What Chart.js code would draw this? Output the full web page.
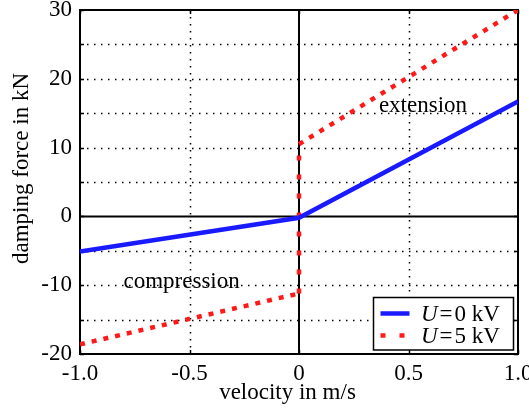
<!DOCTYPE html>
<html>
<head>
<meta charset="utf-8">
<script src="https://cdn.jsdelivr.net/npm/chart.js@4"></script>
<style>
  html, body { margin: 0; padding: 0; background: #fff; }
  #wrap { width: 529px; height: 416px; }
</style>
</head>
<body>
<div id="wrap"><canvas id="damperChart" width="529" height="416"></canvas></div>
<script>
// --- data ---
const blueVelocity = [-1.0, 0.0, 1.0];
const blueForce = [-5.1, -0.2, 16.7];
const redVelocity = [-1.0, 0.0, 0.0, 1.0];
const redForce = [-18.6, -11.2, 10.5, 30.0];

const xTicks = [-1.0, -0.5, 0, 0.5, 1.0];
const xTickLabels = ['-1.0', '-0.5', '0', '0.5', '1.0'];
const yTicks = [-20, -15, -10, -5, 0, 5, 10, 15, 20, 25, 30];
const yTickLabels = ['-20', '', '-10', '', '0', '', '10', '', '20', '', '30'];

const seriesNames = ['0 kV', '5 kV'];
const seriesColors = ['#1a1aff', '#ff1a1a'];
const annotations = [
    { text: 'extension', x: 0.566, y: 16.0 },
    { text: 'compression', x: -0.536, y: -9.5 }
];
const xTitle = 'velocity in m/s';
const yTitle = 'damping force in kN';

const FONT = '"Liberation Serif", "DejaVu Serif", serif';
const FS = 23;

function toPoints(xs, ys) {
    return xs.map((x, i) => ({ x: x, y: ys[i] }));
}

// grid, zero axes, frame, ticks, titles, labels and legend
const decorPlugin = {
    id: 'decor',
    beforeDatasetsDraw(chart) {
        const ctx = chart.ctx;
        const xs = chart.scales.x, ys = chart.scales.y;
        const a = chart.chartArea;
        ctx.save();
        ctx.strokeStyle = '#000';
        ctx.lineWidth = 1.5;
        ctx.setLineDash([1.5, 5.5]);
        xTicks.forEach(v => {
            if (v === 0 || v === -1 || v === 1) return;
            const px = Math.round(xs.getPixelForValue(v)) + 0.5;
            ctx.beginPath(); ctx.moveTo(px, a.top); ctx.lineTo(px, a.bottom); ctx.stroke();
        });
        yTicks.forEach(v => {
            if (v === 0 || v === -20 || v === 30) return;
            const py = Math.round(ys.getPixelForValue(v)) + 0.5;
            ctx.beginPath(); ctx.moveTo(a.left, py); ctx.lineTo(a.right, py); ctx.stroke();
        });
        ctx.setLineDash([]);

        // inward tick marks
        ctx.lineWidth = 1.5;
        xTicks.forEach(v => {
            const px = Math.round(xs.getPixelForValue(v)) + 0.5;
            ctx.beginPath();
            ctx.moveTo(px, a.top); ctx.lineTo(px, a.top + 4);
            ctx.moveTo(px, a.bottom); ctx.lineTo(px, a.bottom - 4);
            ctx.stroke();
        });
        yTicks.forEach(v => {
            const py = Math.round(ys.getPixelForValue(v)) + 0.5;
            ctx.beginPath();
            ctx.moveTo(a.left, py); ctx.lineTo(a.left + 4, py);
            ctx.moveTo(a.right, py); ctx.lineTo(a.right - 4, py);
            ctx.stroke();
        });

        ctx.lineWidth = 2;
        const x0 = xs.getPixelForValue(0), y0 = ys.getPixelForValue(0);
        ctx.beginPath(); ctx.moveTo(x0, a.top); ctx.lineTo(x0, a.bottom); ctx.stroke();
        ctx.beginPath(); ctx.moveTo(a.left, y0); ctx.lineTo(a.right, y0); ctx.stroke();
        ctx.strokeRect(a.left, a.top, a.right - a.left, a.bottom - a.top);

        ctx.fillStyle = '#000';
        ctx.font = FS + 'px ' + FONT;
        ctx.textAlign = 'center';
        ctx.textBaseline = 'middle';
        annotations.forEach(t => {
            ctx.fillText(t.text, xs.getPixelForValue(t.x), ys.getPixelForValue(t.y));
        });

        // axis titles
        ctx.textBaseline = 'alphabetic';
        ctx.fillText(xTitle, 287.5, 399);
        ctx.save();
        ctx.translate(28, 168.5);
        ctx.rotate(-Math.PI / 2);
        ctx.fillText(yTitle, 0, 0);
        ctx.restore();
        ctx.restore();
    },
    afterDraw(chart) {
        const ctx = chart.ctx;
        const bx = 373.5, by = 297.5, bw = 140, bh = 52.5;
        ctx.save();
        ctx.fillStyle = '#fff';
        ctx.fillRect(bx, by, bw, bh);
        ctx.strokeStyle = '#000';
        ctx.lineWidth = 1.5;
        ctx.strokeRect(bx, by, bw, bh);

        const legendDash = [[], [5, 14]];
        chart.data.datasets.forEach((ds, i) => {
            const rowY = by + 16 + i * 22;
            ctx.strokeStyle = ds.borderColor;
            ctx.lineWidth = 4.5;
            ctx.lineCap = 'butt';
            ctx.setLineDash(legendDash[i]);
            ctx.beginPath(); ctx.moveTo(bx + 7, rowY); ctx.lineTo(bx + 36, rowY); ctx.stroke();
            ctx.setLineDash([]);

            ctx.fillStyle = '#000';
            ctx.textAlign = 'left';
            ctx.textBaseline = 'middle';
            let tx = bx + 47.5;
            ctx.font = 'italic ' + FS + 'px ' + FONT;
            ctx.fillText('U', tx, rowY + 1);
            tx += ctx.measureText('U').width + 2;
            ctx.font = FS + 'px ' + FONT;
            ctx.fillText('=', tx, rowY + 1);
            tx += ctx.measureText('=').width + 2;
            ctx.fillText(seriesNames[i], tx, rowY + 1);
        });
        ctx.restore();
    }
};

const ctx = document.getElementById('damperChart').getContext('2d');
new Chart(ctx, {
    type: 'scatter',
    data: {
        datasets: [
            {
                label: 'U = ' + seriesNames[0],
                data: toPoints(blueVelocity, blueForce),
                showLine: true,
                borderColor: seriesColors[0],
                borderWidth: 4.5,
                pointRadius: 0,
                tension: 0
            },
            {
                label: 'U = ' + seriesNames[1],
                data: toPoints(redVelocity, redForce),
                showLine: true,
                borderColor: seriesColors[1],
                borderWidth: 4.5,
                borderDash: [5, 7],
                borderCapStyle: 'butt',
                segment: {
                    // the vertical jump at v = 0 has wider spaced dots
                    borderDash: c => c.p0.parsed.x === c.p1.parsed.x ? [5, 14] : [5, 7]
                },
                pointRadius: 0,
                tension: 0
            }
        ]
    },
    options: {
        responsive: false,
        animation: false,
        layout: { padding: { top: 10, right: 11, left: 0, bottom: 0 } },
        plugins: {
            legend: { display: false },
            tooltip: { enabled: false }
        },
        scales: {
            x: {
                type: 'linear',
                min: -1, max: 1,
                afterBuildTicks: s => { s.ticks = xTicks.map(v => ({ value: v })); },
                afterFit: s => { s.height = 62; s.paddingLeft = 0; s.paddingRight = 0; },
                grid: { display: false, drawOnChartArea: false, drawTicks: false },
                border: { display: false },
                ticks: {
                    color: '#000',
                    font: { family: FONT, size: FS },
                    padding: 6,
                    maxRotation: 0,
                    autoSkip: false,
                    callback: (v) => xTickLabels[xTicks.indexOf(v)]
                },
                title: { display: false }
            },
            y: {
                type: 'linear',
                min: -20, max: 30,
                afterBuildTicks: s => { s.ticks = yTicks.map(v => ({ value: v })); },
                afterFit: s => { s.width = 80; s.paddingTop = 0; s.paddingBottom = 0; },
                grid: { display: false, drawOnChartArea: false, drawTicks: false },
                border: { display: false },
                ticks: {
                    color: '#000',
                    font: { family: FONT, size: FS },
                    padding: 8,
                    autoSkip: false,
                    callback: (v) => yTickLabels[yTicks.indexOf(v)]
                },
                title: { display: false }
            }
        }
    },
    plugins: [decorPlugin]
});
</script>
</body>
</html>
